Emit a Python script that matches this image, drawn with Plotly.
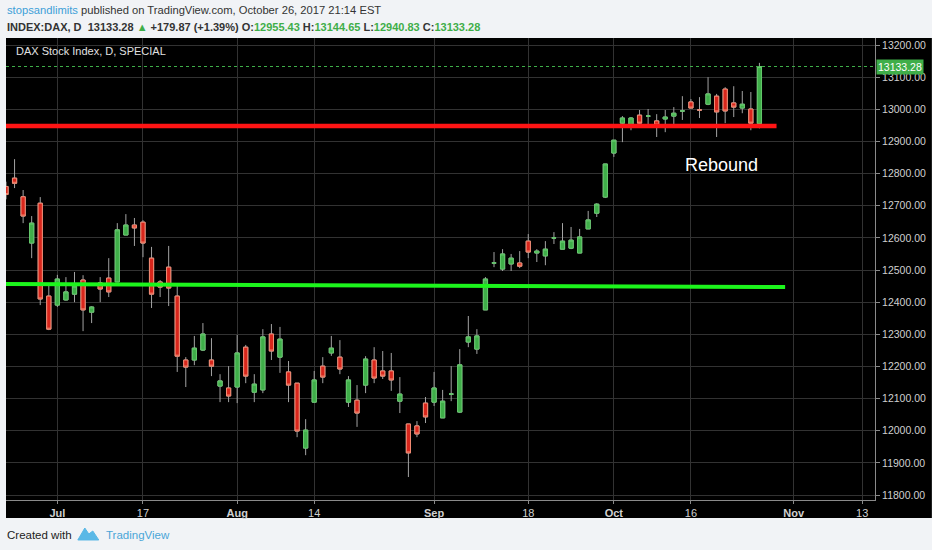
import plotly.graph_objects as go

# ---------------- data ----------------
dates = [
    "2017-06-23", "2017-06-26", "2017-06-27", "2017-06-28", "2017-06-29", "2017-06-30",
    "2017-07-03", "2017-07-04", "2017-07-05", "2017-07-06", "2017-07-07",
    "2017-07-10", "2017-07-11", "2017-07-12", "2017-07-13", "2017-07-14",
    "2017-07-17", "2017-07-18", "2017-07-19", "2017-07-20", "2017-07-21",
    "2017-07-24", "2017-07-25", "2017-07-26", "2017-07-27", "2017-07-28",
    "2017-07-31", "2017-08-01", "2017-08-02", "2017-08-03", "2017-08-04",
    "2017-08-07", "2017-08-08", "2017-08-09", "2017-08-10", "2017-08-11",
    "2017-08-14", "2017-08-15", "2017-08-16", "2017-08-17", "2017-08-18",
    "2017-08-21", "2017-08-22", "2017-08-23", "2017-08-24", "2017-08-25",
    "2017-08-28", "2017-08-29", "2017-08-30", "2017-08-31", "2017-09-01",
    "2017-09-04", "2017-09-05", "2017-09-06", "2017-09-07", "2017-09-08",
    "2017-09-11", "2017-09-12", "2017-09-13", "2017-09-14", "2017-09-15",
    "2017-09-18", "2017-09-19", "2017-09-20", "2017-09-21", "2017-09-22",
    "2017-09-25", "2017-09-26", "2017-09-27", "2017-09-28", "2017-09-29",
    "2017-10-02", "2017-10-04", "2017-10-05", "2017-10-06",
    "2017-10-09", "2017-10-10", "2017-10-11", "2017-10-12", "2017-10-13",
    "2017-10-16", "2017-10-17", "2017-10-18", "2017-10-19", "2017-10-20",
    "2017-10-23", "2017-10-24", "2017-10-25", "2017-10-26",
]
opens = [
    12760, 12786, 12728, 12584, 12708, 12419,
    12391, 12407, 12425, 12469, 12369,
    12460, 12475, 12463, 12609, 12640,
    12649, 12537, 12463, 12509, 12419,
    12220, 12220, 12251, 12220, 12139,
    12133, 12136, 12260, 12120, 12127,
    12301, 12229, 12183, 12148, 11946,
    12089, 12201, 12242, 12229, 12089,
    12095, 12142, 12220, 12186, 12186,
    12092, 12021, 12015, 12086, 12089,
    12040, 12114, 12058, 12276, 12254,
    12376, 12522, 12503, 12519, 12522,
    12590, 12553, 12544, 12600, 12565,
    12568, 12553, 12628, 12677, 12727,
    12864, 12957, 12951, 12982,
    12979, 12964, 12970, 12979, 12995,
    13023, 12998, 13016, 13041, 13063,
    13020, 13004, 13001, 12955.43,
]
highs = [
    12775, 12845, 12749, 12668, 12727, 12453,
    12485, 12478, 12494, 12484, 12387,
    12478, 12537, 12646, 12674, 12662,
    12655, 12572, 12469, 12575, 12456,
    12229, 12295, 12335, 12288, 12176,
    12201, 12298, 12267, 12176, 12316,
    12332, 12323, 12217, 12148, 12036,
    12186, 12229, 12295, 12282, 12170,
    12142, 12232, 12260, 12248, 12242,
    12167, 12021, 12030, 12105, 12183,
    12127, 12201, 12254, 12357, 12316,
    12478, 12556, 12565, 12550, 12559,
    12612, 12565, 12590, 12618, 12646,
    12634, 12628, 12684, 12708, 12830,
    12904, 12979, 12976, 12998,
    13001, 12985, 12998, 13007, 13041,
    13032, 13038, 13100, 13048, 13069,
    13072, 13057, 13054, 13144.65,
]
lows = [
    12720, 12755, 12646, 12537, 12391, 12313,
    12385, 12405, 12400, 12310, 12335,
    12400, 12416, 12463, 12609, 12575,
    12540, 12382, 12416, 12388, 12183,
    12136, 12204, 12248, 12170, 12089,
    12089, 12086, 12148, 12089, 12117,
    12220, 12180, 12089, 11980, 11924,
    12089, 12148, 12233, 12176, 12074,
    12012, 12117, 12148, 12161, 12124,
    12055, 11856, 11980, 12024, 12077,
    12040, 12092, 12055, 12260, 12239,
    12376, 12509, 12497, 12497, 12506,
    12537, 12525, 12515, 12581, 12565,
    12565, 12553, 12628, 12665, 12724,
    12852, 12898, 12935, 12945,
    12948, 12914, 12929, 12948, 12967,
    13004, 12973, 13013, 12914, 12957,
    12976, 12988, 12935, 12940.83,
]
closes = [
    12735, 12770, 12668, 12646, 12410, 12316,
    12472, 12432, 12450, 12376, 12385,
    12441, 12432, 12625, 12640, 12631,
    12584, 12425, 12447, 12444, 12232,
    12198, 12257, 12301, 12201, 12155,
    12108, 12242, 12170, 12145, 12292,
    12248, 12285, 12142, 11999, 12002,
    12158, 12167, 12257, 12192, 12158,
    12055, 12223, 12164, 12170, 12158,
    12114, 11931, 11990, 12043, 12133,
    12092, 12114, 12205, 12292, 12295,
    12472, 12522, 12550, 12537, 12512,
    12556, 12559, 12565, 12600, 12590,
    12593, 12603, 12656, 12705, 12830,
    12904, 12973, 12973, 12957,
    12979, 12951, 12976, 12988, 12995,
    13004, 12998, 13048, 12992, 12995,
    13007, 13016, 12957, 13133.28,
]

# hand-drawn level lines (end points)
support_dates = ["2017-06-20", "2017-10-31"]
support_prices = [12457, 12447]
resistance_dates = ["2017-06-20", "2017-10-30"]
resistance_prices = [12948, 12948]

tick_dates = ["2017-07-03", "2017-07-17", "2017-08-01", "2017-08-14", "2017-09-01",
              "2017-09-18", "2017-10-02", "2017-10-16", "2017-11-01", "2017-11-13"]
tick_text = ["<b>Jul</b>", "17", "<b>Aug</b>", "14", "<b>Sep</b>",
             "18", "<b>Oct</b>", "16", "<b>Nov</b>", "13"]
holidays = ["2017-10-03"]

# ---------------- layout geometry ----------------
W, H = 932, 550
L, R, T, B = 6, 55, 38, 50
PW, PH = W - L - R, H - T - B


def px(x):
    return (x - L) / PW


def py(y):
    return (H - B - y) / PH


FONT = "Liberation Sans, Arial, sans-serif"
UP_FILL, UP_LINE = "#3fae49", "#62c86a"
DN_FILL, DN_LINE = "#d8261c", "#f28a72"
WICK = "#a3a3a3"
GRID = "#323232"

xs = [d + " 12:00" for d in dates]
body_hi = [max(o, c) for o, c in zip(opens, closes)]
body_lo = [min(o, c) for o, c in zip(opens, closes)]

fig = go.Figure()

# wicks
fig.add_trace(go.Candlestick(
    x=xs, open=opens, high=highs, low=lows, close=closes,
    increasing=dict(line=dict(color=WICK, width=1), fillcolor=WICK),
    decreasing=dict(line=dict(color=WICK, width=1), fillcolor=WICK),
    whiskerwidth=0, hoverinfo="skip", showlegend=False,
))
# bodies
fig.add_trace(go.Candlestick(
    x=xs, open=opens, high=body_hi, low=body_lo, close=closes,
    increasing=dict(line=dict(color=UP_LINE, width=1), fillcolor=UP_FILL),
    decreasing=dict(line=dict(color=DN_LINE, width=1), fillcolor=DN_FILL),
    whiskerwidth=0, hoverinfo="skip", showlegend=False,
))

fig.add_trace(go.Scatter(
    x=[d + " 12:00" for d in support_dates], y=support_prices, mode="lines",
    line=dict(color="#1cf51c", width=4), hoverinfo="skip", showlegend=False,
))
fig.add_trace(go.Scatter(
    x=[d + " 12:00" for d in resistance_dates], y=resistance_prices, mode="lines",
    line=dict(color="#ff1414", width=4.5), hoverinfo="skip", showlegend=False,
))

last_close = closes[-1]

shapes = [
    # black chart panel (plot + axis strips)
    dict(type="rect", xref="paper", yref="paper", x0=px(6), x1=px(W + 2),
         y0=py(518), y1=py(T), fillcolor="#000000", line=dict(width=0), layer="below"),
    # last price dotted line
    dict(type="line", xref="paper", yref="y", x0=0, x1=1, y0=last_close, y1=last_close,
         line=dict(color=UP_FILL, width=1, dash="dot")),
]

# TradingView logo (approximation)
logo_pts = [(78, 540), (85, 528), (89, 534), (93, 531), (99, 540)]
path = "M " + " L ".join(f"{px(x):.5f},{py(y):.5f}" for x, y in logo_pts) + " Z"
shapes.append(dict(type="path", xref="paper", yref="paper", path=path,
                   fillcolor="#5ab8e6", line=dict(color="#5ab8e6", width=1)))

G = "#3fae49"
header2 = (
    "<b>INDEX:DAX, D&nbsp;&nbsp;13133.28 "
    f"<span style='color:{G}'>▲</span> +179.87 (+1.39%) "
    f"O:<span style='color:{G}'>{opens[-1]:.2f}</span> "
    f"H:<span style='color:{G}'>{highs[-1]:.2f}</span> "
    f"L:<span style='color:{G}'>{lows[-1]:.2f}</span> "
    f"C:<span style='color:{G}'>{closes[-1]:.2f}</span></b>"
)

annotations = [
    dict(xref="paper", yref="paper", x=px(5), y=py(10), xanchor="left", yanchor="middle",
         text="<span style='color:#3d9fd8'>stopsandlimits</span> published on TradingView.com, October 26, 2017 21:14 EST",
         showarrow=False, font=dict(family=FONT, size=11.2, color="#333333")),
    dict(xref="paper", yref="paper", x=px(5), y=py(27), xanchor="left", yanchor="middle",
         text=header2, showarrow=False, font=dict(family=FONT, size=11, color="#333333")),
    dict(xref="paper", yref="paper", x=px(14), y=py(51), xanchor="left", yanchor="middle",
         text="DAX Stock Index, D, SPECIAL", showarrow=False,
         font=dict(family=FONT, size=11, color="#e0e0e0")),
    dict(xref="x", yref="y", x="2017-10-19 12:00", y=12827, xanchor="center", yanchor="middle",
         xshift=5, text="Rebound", showarrow=False,
         font=dict(family=FONT, size=18, color="#ffffff")),
    dict(xref="paper", yref="y", x=1, y=last_close, xanchor="left", yanchor="middle", xshift=1,
         text=f"{last_close:.2f}", showarrow=False, bgcolor=UP_FILL, borderpad=1,
         font=dict(family=FONT, size=10.5, color="#ffffff")),
    dict(xref="paper", yref="paper", x=px(5), y=py(535), xanchor="left", yanchor="middle",
         text="Created with", showarrow=False, font=dict(family=FONT, size=11.5, color="#222222")),
    dict(xref="paper", yref="paper", x=px(104), y=py(535), xanchor="left", yanchor="middle",
         text="TradingView", showarrow=False, font=dict(family=FONT, size=11.5, color="#4aa6d8")),
]

fig.update_layout(
    width=W, height=H,
    margin=dict(l=L, r=R, t=T, b=B, pad=0),
    paper_bgcolor="#f1f3f6", plot_bgcolor="#000000",
    font=dict(family=FONT, size=11, color="#cccccc"),
    showlegend=False, hovermode=False,
    shapes=shapes, annotations=annotations,
    xaxis=dict(
        type="date",
        range=["2017-06-23 12:00", "2017-11-15 00:00"],
        rangebreaks=[dict(bounds=["sat", "mon"]), dict(values=holidays)],
        rangeslider=dict(visible=False),
        tickmode="array", tickvals=[d + " 12:00" for d in tick_dates], ticktext=tick_text,
        showgrid=True, gridcolor=GRID, gridwidth=1,
        showline=True, linecolor="#8a8a8a", linewidth=1,
        ticks="outside", ticklen=3, tickcolor="#8a8a8a",
        tickfont=dict(family=FONT, size=11, color="#d0d0d0"),
        zeroline=False, fixedrange=True,
    ),
    yaxis=dict(
        side="right",
        range=[11784.5, 13222],
        tickmode="linear", tick0=0, dtick=100, tickformat=".2f",
        showgrid=True, gridcolor=GRID, gridwidth=1,
        showline=True, linecolor="#8a8a8a", linewidth=1,
        ticks="outside", ticklen=4, tickcolor="#8a8a8a",
        tickfont=dict(family=FONT, size=10.5, color="#d0d0d0"),
        zeroline=False, fixedrange=True,
    ),
)

fig.write_html(
    "out.html",
    config={"displayModeBar": False},
    post_script="document.body.style.margin='0';document.body.style.overflow='hidden';",
)
